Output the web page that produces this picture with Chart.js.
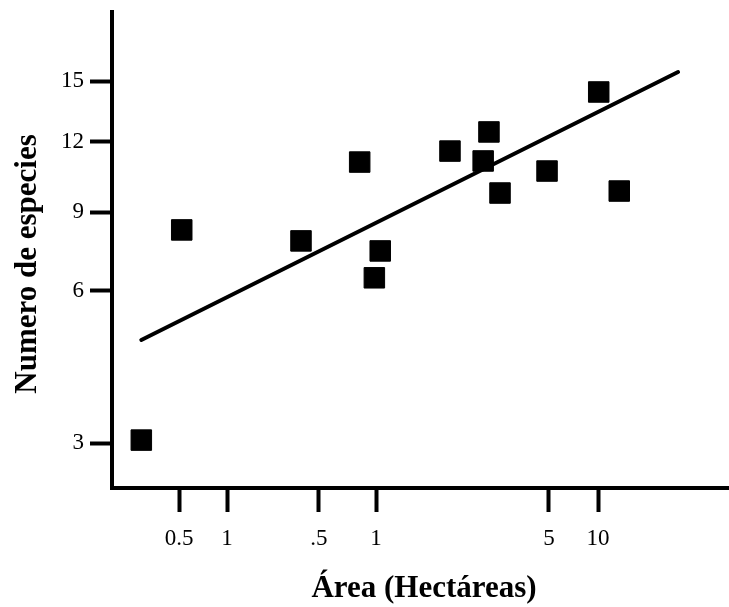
<!DOCTYPE html>
<html>
<head>
<meta charset="utf-8">
<script src="https://cdn.jsdelivr.net/npm/chart.js@4.4.0/dist/chart.umd.min.js"></script>
<style>
    html, body { margin: 0; padding: 0; background: #fff; overflow: hidden; }
    #wrap { width: 729px; height: 607px; }
</style>
</head>
<body>
<div id="wrap"><canvas id="chart-1"></canvas></div>
<script>
// Data

const areaValues = [0.029, 0.052, 0.365, 0.82, 0.98, 1.04, 1.99, 2.71, 2.86, 3.17, 4.91, 10.1, 13.5];
const speciesValues = [3.04, 8.21, 7.76, 11.05, 6.42, 7.37, 11.56, 11.1, 12.45, 9.73, 10.65, 14.41, 9.81];

// regression line, ends only
const fitArea = [0.029, 31.0];
const fitSpecies = [4.8, 15.5];

const xTickValues = [0.05, 0.1, 0.5, 1, 5, 10];
const xTickLabels = ['0.5', '1', '.5', '1', '5', '10'];
const yTickValues = [3, 6, 9, 12, 15];
const yTickLabels = ['3', '6', '9', '12', '15'];

const xTitle = 'Área (Hectáreas)';
const yTitle = 'Numero de especies';


// Scale

// The printed axes are log-like but the ticks are not evenly spaced,
// so each tick gets its own spot along the axis (0 = start, 1 = end)
// and values are interpolated in log space between them.
const axisWarp = {
    x: { values: xTickValues, spots: [0.1088, 0.1867, 0.336, 0.4286, 0.7094, 0.789] },
    y: { values: yTickValues, spots: [0.0945, 0.4139, 0.5798, 0.7269, 0.855] },
};

function segmentFor(logs, lv) {
    let i = 0;
    while (i < logs.length - 2 && lv > logs[i + 1]) i++;
    return i;
}

function toDecimal(warp, value) {
    const logs = warp.values.map(Math.log10);
    const lv = Math.log10(value);
    const i = segmentFor(logs, lv);
    const t = (lv - logs[i]) / (logs[i + 1] - logs[i]);
    return warp.spots[i] + t * (warp.spots[i + 1] - warp.spots[i]);
}

function fromDecimal(warp, dec) {
    const logs = warp.values.map(Math.log10);
    const i = segmentFor(warp.spots, dec);
    const t = (dec - warp.spots[i]) / (warp.spots[i + 1] - warp.spots[i]);
    return Math.pow(10, logs[i] + t * (logs[i + 1] - logs[i]));
}

class WarpedLogScale extends Chart.LinearScale {
    buildTicks() {
        return axisWarp[this.id].values.map(v => ({ value: v }));
    }
    getPixelForValue(value) {
        return this.getPixelForDecimal(toDecimal(axisWarp[this.id], value));
    }
    getValueForPixel(pixel) {
        return fromDecimal(axisWarp[this.id], this.getDecimalForPixel(pixel));
    }
}
WarpedLogScale.id = 'warpedLog';
WarpedLogScale.defaults = {};
Chart.register(WarpedLogScale);


// Axis titles

const axisTitles = {
    id: 'axisTitles',
    afterDraw(chart) {
        const ctx = chart.ctx;
        ctx.save();
        ctx.fillStyle = '#000';
        ctx.font = 'bold 31px "Liberation Serif"';
        ctx.textAlign = 'center';
        ctx.textBaseline = 'alphabetic';
        ctx.fillText(xTitle, 424, 597);
        ctx.translate(36, 264);
        ctx.rotate(-Math.PI / 2);
        ctx.fillText(yTitle, 0, 0);
        ctx.restore();
    }
};


// Chart

const tickFont = { family: '"Liberation Serif"', size: 23 };

const data1 = {
    datasets: [{
        label: 'Especies',
        data: areaValues.map((a, i) => ({ x: a, y: speciesValues[i] })),
        pointStyle: 'rect',
        pointRadius: 14.5,
        backgroundColor: '#000',
        borderColor: '#000',
        borderWidth: 1,
    }, {
        type: 'line',
        label: 'Ajuste',
        data: fitArea.map((a, i) => ({ x: a, y: fitSpecies[i] })),
        borderColor: '#000',
        borderWidth: 4,
        borderCapStyle: 'round',
        pointRadius: 0,
        fill: false,
    }],
};

// fixed axis boxes, no extra room for overhanging labels
function fitX(scale) {
    scale.height = 119;
    scale.paddingLeft = 0;
    scale.paddingRight = 0;
}

function fitY(scale) {
    scale.width = 112;
    scale.paddingTop = 0;
    scale.paddingBottom = 0;
}

const config1 = {
    type: 'scatter',
    data: data1,
    options: {
        responsive: true,
        maintainAspectRatio: false,
        animation: false,
        layout: {
            autoPadding: false,
            padding: { top: 12, right: 1, left: 0, bottom: 0 },
        },
        plugins: {
            legend: { display: false },
            tooltip: { enabled: false },
        },
        scales: {
            x: {
                type: 'warpedLog',
                afterFit: fitX,
                border: { display: true, width: 4, color: '#000' },
                grid: {
                    drawOnChartArea: false,
                    tickLength: 24,
                    tickWidth: 4,
                    tickColor: '#000',
                },
                ticks: {
                    autoSkip: false,
                    maxRotation: 0,
                    padding: 13,
                    color: '#000',
                    font: tickFont,
                    callback: (v, i) => xTickLabels[i],
                },
            },
            y: {
                type: 'warpedLog',
                afterFit: fitY,
                border: { display: true, width: 4, color: '#000' },
                grid: {
                    drawOnChartArea: false,
                    tickLength: 22,
                    tickWidth: 4,
                    tickColor: '#000',
                },
                ticks: {
                    autoSkip: false,
                    padding: 6,
                    color: '#000',
                    font: tickFont,
                    callback: (v, i) => yTickLabels[i],
                },
            },
        },
    },
    plugins: [axisTitles],
};

const context1 = document.getElementById('chart-1').getContext('2d');
const chart1 = new Chart(context1, config1);
</script>
</body>
</html>
